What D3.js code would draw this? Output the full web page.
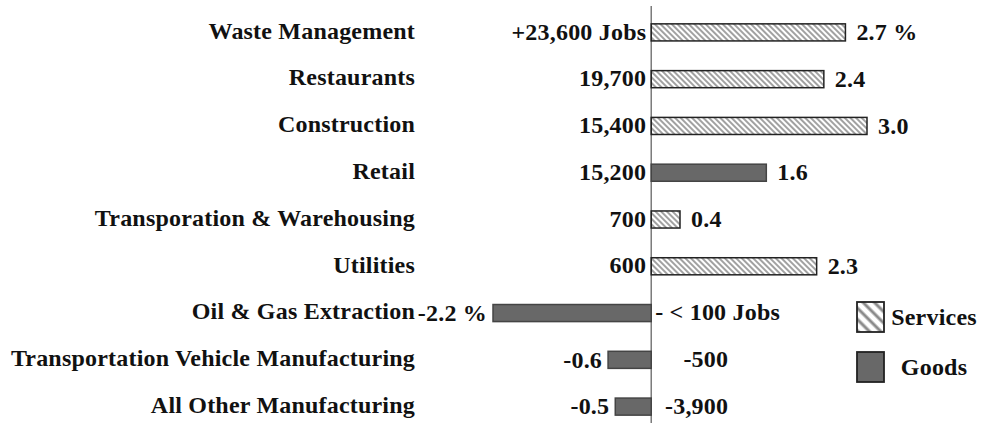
<!DOCTYPE html>
<html lang="en">
<head>
<meta charset="utf-8">
<script src="https://d3js.org/d3.v7.min.js"></script>
<style type="text/css">
body {
	margin: 0;
	background: #fff;
}
text {
	font-family: "Liberation Serif", "Times New Roman", serif;
	font-weight: bold;
	font-size: 24px;
	letter-spacing: 0.2px;
	fill: #111;
}
</style>
</head>
<body>
<script type="text/javascript">

var width = 981;
var height = 423;

// chart data
var industries = ["Waste Management", "Restaurants", "Construction", "Retail",
                  "Transporation & Warehousing", "Utilities", "Oil & Gas Extraction",
                  "Transportation Vehicle Manufacturing", "All Other Manufacturing"];
var pctChange = [2.7, 2.4, 3.0, 1.6, 0.4, 2.3, -2.2, -0.6, -0.5];
var pctLabels = ["2.7 %", "2.4", "3.0", "1.6", "0.4", "2.3", "-2.2 %", "-0.6", "-0.5"];
var jobLabels = ["+23,600 Jobs", "19,700", "15,400", "15,200", "700", "600",
                 "- < 100 Jobs", "-500", "-3,900"];
var sector = ["Services", "Services", "Services", "Goods", "Services", "Services",
              "Goods", "Goods", "Goods"];
var legendItems = ["Services", "Goods"];

var rows = industries.map(function(d, i) {
  return {name: d, pct: pctChange[i], pctText: pctLabels[i], jobs: jobLabels[i], sector: sector[i]};
});

var svg = d3.select("body")
            .append("svg")
            .attr("width", width)
            .attr("height", height);

// hatch patterns for services
var defs = svg.append("defs");
function hatch(id, size, lineW) {
  var p = defs.append("pattern")
      .attr("id", id)
      .attr("patternUnits", "userSpaceOnUse")
      .attr("width", size)
      .attr("height", size)
      .attr("patternTransform", "rotate(-45)");
  p.append("rect").attr("width", size).attr("height", size).attr("fill", "#fff");
  p.append("line")
   .attr("x1", size / 2).attr("x2", size / 2)
   .attr("y1", 0).attr("y2", size)
   .attr("stroke", "#8a8a8a")
   .attr("stroke-width", lineW);
}
hatch("hatchBar", 4, 1.6);
hatch("hatchLegend", 8, 3);

var x = d3.scaleLinear()
          .domain([-2.2, 3.0])
          .range([493, 867]);

var y = d3.scaleBand()
          .domain(industries)
          .range([9, 430])
          .paddingInner(0.635)
          .paddingOuter(0.3175);

function fillFor(s, legend) {
  if (s == "Services") { return legend ? "url(#hatchLegend)" : "url(#hatchBar)"; }
  return "#686868";
}

function mid(d) { return y(d.name) + y.bandwidth() / 2; }

// zero line
svg.append("line")
   .attr("x1", x(0)).attr("x2", x(0))
   .attr("y1", 6).attr("y2", height)
   .attr("stroke", "#7a7a7a")
   .attr("stroke-width", 1.5);

// bars
svg.selectAll("rect.bar")
   .data(rows)
   .enter()
   .append("rect")
   .attr("class", "bar")
   .attr("x", function(d) { return x(Math.min(0, d.pct)); })
   .attr("y", function(d) { return y(d.name); })
   .attr("width", function(d) { return Math.abs(x(d.pct) - x(0)); })
   .attr("height", y.bandwidth())
   .style("fill", function(d) { return fillFor(d.sector, false); })
   .style("stroke", function(d) { return d.sector == "Services" ? "#222" : "#444"; })
   .style("stroke-width", 1.5);

// category labels
svg.selectAll("text.cat")
   .data(rows)
   .enter()
   .append("text")
   .attr("class", "cat")
   .attr("x", 415)
   .attr("y", mid)
   .attr("dy", "0.26em")
   .attr("text-anchor", "end")
   .text(function(d) { return d.name; });

// percent labels at bar ends
svg.selectAll("text.pct")
   .data(rows)
   .enter()
   .append("text")
   .attr("class", "pct")
   .attr("x", function(d) { return d.pct >= 0 ? x(d.pct) + 11 : x(d.pct) - 6; })
   .attr("y", mid)
   .attr("dy", "0.32em")
   .attr("text-anchor", function(d) { return d.pct >= 0 ? "start" : "end"; })
   .text(function(d) { return d.pctText; });

// job labels beside the zero line
var jobs = svg.selectAll("text.jobs")
   .data(rows)
   .enter()
   .append("text")
   .attr("class", "jobs")
   .attr("y", mid)
   .attr("dy", "0.3em")
   .text(function(d) { return d.jobs; });

jobs.each(function(d) {
  var t = d3.select(this);
  if (d.pct >= 0) {
    t.attr("x", x(0) - 5).attr("text-anchor", "end");
  } else {
    var w = this.getComputedTextLength();
    var right = x(0) + 77;
    if (right - w < x(0) + 4) {
      t.attr("x", x(0) + 4).attr("text-anchor", "start");
    } else {
      t.attr("x", right).attr("text-anchor", "end");
    }
  }
});

// legend
var legend = svg.selectAll("g.legend")
   .data(legendItems)
   .enter()
   .append("g")
   .attr("class", "legend")
   .attr("transform", function(d, i) { return "translate(857," + (302 + i * 50) + ")"; });

legend.append("rect")
      .attr("width", 27)
      .attr("height", 30)
      .style("fill", function(d) { return fillFor(d, true); })
      .style("stroke", "#222")
      .style("stroke-width", 1.8);

legend.append("text")
      .attr("x", 77)
      .attr("y", 15)
      .attr("dy", "0.35em")
      .attr("text-anchor", "middle")
      .text(function(d) { return d; });

</script>
</body>
</html>
